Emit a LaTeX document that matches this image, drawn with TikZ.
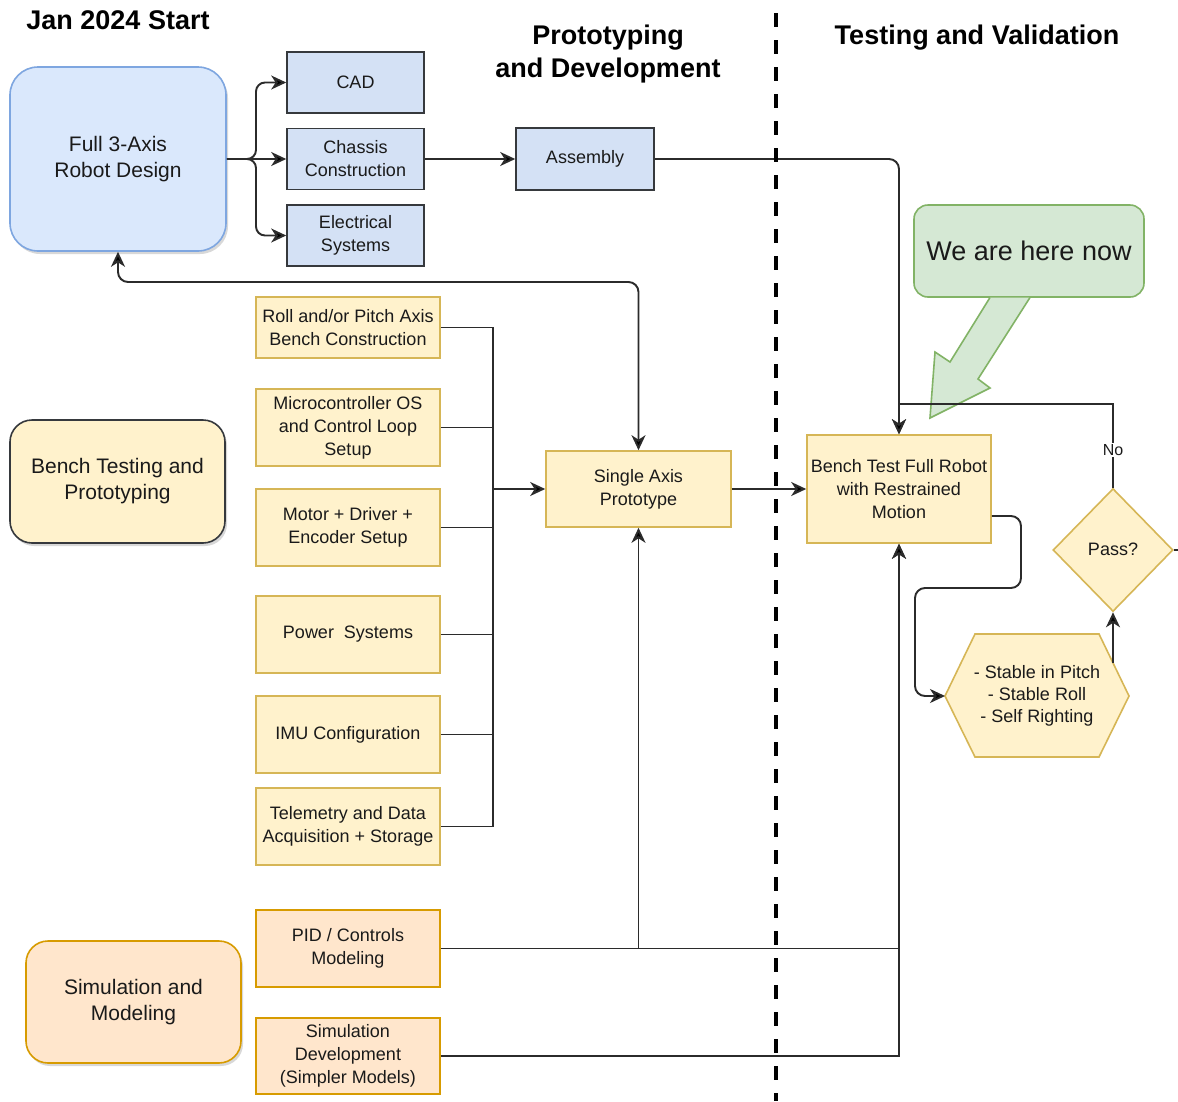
\documentclass[tikz,border=0pt]{standalone}
\usepackage{fontspec}
\setmainfont{Liberation Sans}
\usetikzlibrary{arrows.meta,shadows,shapes.geometric}

\definecolor{blueFill}{HTML}{DAE8FC}
\definecolor{blueLine}{HTML}{7EA6E0}
\definecolor{steelFill}{HTML}{D4E1F5}
\definecolor{darkLine}{HTML}{36393D}
\definecolor{yelFill}{HTML}{FFF2CC}
\definecolor{yelLine}{HTML}{D6B656}
\definecolor{orFill}{HTML}{FFE6CC}
\definecolor{orLine}{HTML}{D79B00}
\definecolor{grnFill}{HTML}{D5E8D4}
\definecolor{grnLine}{HTML}{82B366}
\definecolor{wireCol}{HTML}{2B2B2B}
\definecolor{inkCol}{HTML}{1A1A1A}

\tikzset{
  basebox/.style={draw, line width=1.6pt, align=center, inner sep=0pt,
    text=inkCol, font=\fontsize{18pt}{23pt}\selectfont},
  steelbox/.style={basebox, fill=steelFill, draw=darkLine},
  taskbox/.style={basebox, fill=yelFill, draw=yelLine},
  simbox/.style={basebox, fill=orFill, draw=orLine},
  phasebox/.style={basebox, font=\fontsize{21pt}{26pt}\selectfont,
    drop shadow={opacity=0.3, shadow xshift=2pt, shadow yshift=-3pt}},
  heading/.style={font=\bfseries\fontsize{27pt}{33pt}\selectfont, align=center, text=black},
  wire/.style={draw=wireCol, line width=1.9pt},
  tip/.style={-{Stealth[length=15pt, width=14pt, inset=4.5pt, fill=black]}},
  bitip/.style={{Stealth[length=15pt, width=14pt, inset=4.5pt, fill=black]}-{Stealth[length=15pt, width=14pt, inset=4.5pt, fill=black]}},
  conn/.style={wire, tip},
}

\begin{document}
\begin{tikzpicture}[x=1pt, y=-1pt]
\useasboundingbox[fill=white] (0,0) rectangle (1178,1101);

% section headings
\node[heading] (hStart) at (118,20) {Jan 2024 Start};
\node[heading] (hProto) at (608,54) {Prototyping\\and Development};
\node[heading] (hTest) at (977,38) {Testing and Validation};

% design phase
\node[phasebox, fill=blueFill, draw=blueLine, rounded corners=28pt,
      minimum width=216pt, minimum height=184pt] (full) at (118,159) {Full 3-Axis\\Robot Design};
\node[steelbox, minimum width=137pt, minimum height=61pt] (cad) at (355.5,82.5) {CAD};
\node[steelbox, minimum width=137pt, minimum height=61pt] (chassis) at (355.5,159) {Chassis\\Construction};
\node[steelbox, minimum width=137pt, minimum height=61pt] (elec) at (355.5,235.5) {Electrical\\Systems};
\node[steelbox, minimum width=138pt, minimum height=62pt] (assembly) at (585,159) {Assembly};

% bench testing phase
\node[phasebox, fill=yelFill, draw=darkLine, rounded corners=22pt,
      minimum width=215pt, minimum height=123pt] (benchphase) at (117.5,481.5) {Bench Testing and\\Prototyping};
\node[taskbox, minimum width=184pt, minimum height=61pt] (roll) at (348,327.5) {Roll and/or Pitch Axis\\Bench Construction};
\node[taskbox, minimum width=184pt, minimum height=77pt] (micro) at (348,427.5) {Microcontroller OS\\and Control Loop\\Setup};
\node[taskbox, minimum width=184pt, minimum height=77pt] (motor) at (348,527.5) {Motor + Driver +\\Encoder Setup};
\node[taskbox, minimum width=184pt, minimum height=77pt] (power) at (348,634.5) {Power\ \ Systems};
\node[taskbox, minimum width=184pt, minimum height=77pt] (imu) at (348,734.5) {IMU Configuration};
\node[taskbox, minimum width=184pt, minimum height=77pt] (tele) at (348,826.5) {Telemetry and Data\\Acquisition + Storage};
\node[taskbox, minimum width=185pt, minimum height=76pt] (single) at (638.5,489) {Single Axis\\Prototype};

% simulation phase
\node[phasebox, fill=orFill, draw=orLine, rounded corners=22pt,
      minimum width=215pt, minimum height=122pt] (simphase) at (133.5,1002) {Simulation and\\Modeling};
\node[simbox, minimum width=184pt, minimum height=77pt] (pid) at (348,948.5) {PID / Controls\\Modeling};
\node[simbox, minimum width=184pt, minimum height=76pt] (simdev) at (348,1056) {Simulation\\Development\\(Simpler Models)};

% testing and validation
\node[taskbox, minimum width=184pt, minimum height=108pt] (bench) at (899,489) {Bench Test Full Robot\\with Restrained\\Motion};
\node[basebox, fill=grnFill, draw=grnLine, rounded corners=14pt, font=\fontsize{27pt}{32pt}\selectfont,
      minimum width=230pt, minimum height=92pt] (here) at (1029,251) {We are here now};
\draw[fill=grnFill, draw=grnLine, line width=1.6pt, line join=miter]
  (990,297.5) -- (950,362) -- (935,352) -- (930,418) -- (990,388) -- (978,379) -- (1030,297.5);

% criteria hexagon
\coordinate (hexW) at (945,696);
\coordinate (hexNE) at (1113,663);
\draw[fill=yelFill, draw=yelLine, line width=1.6pt]
  (hexW) -- (975,634) -- (1099,634) -- (1129,696) -- (1099,757) -- (975,757) -- cycle;
\node[align=center, text=inkCol, font=\fontsize{18pt}{22pt}\selectfont] (hex) at (1037,696)
  {- Stable in Pitch\\- Stable Roll\\- Self Righting};

% decision
\node[basebox, shape=diamond, fill=yelFill, draw=yelLine, minimum width=120pt, minimum height=123pt]
  (pass) at (1113,550) {};
\node[text=inkCol, font=\fontsize{18pt}{22pt}\selectfont] (passtxt) at (1113,549) {Pass?};
\coordinate (rightEdge) at (1178,550);

% design connectors
\draw[conn] (full.east) -- (chassis.west);
\draw[conn, rounded corners=9pt] (full.east) -- (256,159) |- (cad.west);
\draw[conn, rounded corners=9pt] (full.east) -- (256,159) |- (elec.west);
\draw[conn] (chassis.east) -- (assembly.west);
\draw[conn, rounded corners=10pt] (assembly.east) -| (bench.north);
\draw[wire, bitip, rounded corners=10pt]
  (full.south) -- (118,282) -- (638.5,282) -- (single.north);

% bench task bus
\coordinate (bus) at (493,489);
\draw[wire] (roll.east) -- (493,327.5) -- (493,826.5) -- (tele.east);
\draw[wire] (micro.east) -- (493,427.5);
\draw[wire] (motor.east) -- (493,527.5);
\draw[wire] (power.east) -- (493,634.5);
\draw[wire] (imu.east) -- (493,734.5);
\draw[conn] (bus) -- (single.west);
\draw[conn] (single.east) -- (bench.west);

% simulation connectors
\draw[conn] (pid.east) -| (single.south);
\draw[conn] (pid.east) -| (bench.south);
\draw[conn] (simdev.east) -| (bench.south);

% test loop
\draw[conn, rounded corners=10pt] ([yshift=-27pt]bench.east) -- (1021,516) -- (1021,588) -- (915,588) -- (915,696) -- (hexW);
\draw[conn] (hexNE) -- (pass.south);
\draw[conn] (pass.north) -- (1113,404) -- (899,404) -- (bench.north);
\node[fill=white, inner sep=1pt, text=inkCol, font=\fontsize{16pt}{18pt}\selectfont] (nolabel) at (1113,450) {No};
\draw[wire] (pass.east) -- (rightEdge);

% phase divider
\draw[black, line width=3.5pt, dash pattern=on 14pt off 13pt] (776,13) -- (776,1101);
\end{tikzpicture}
\end{document}
